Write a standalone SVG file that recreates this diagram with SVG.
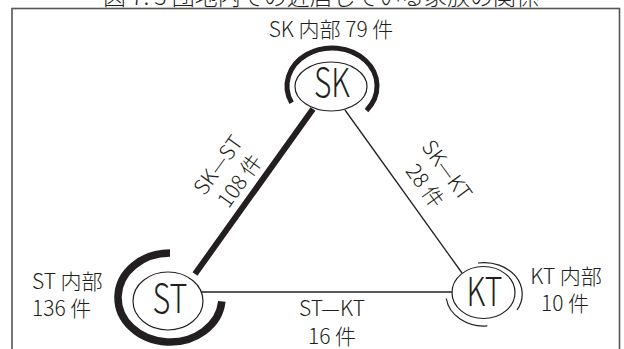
<svg xmlns="http://www.w3.org/2000/svg" width="624" height="349" viewBox="0 0 624 349">
<style>
text{font-family:"Noto Sans CJK JP","Noto Sans",sans-serif;fill:#231f20;font-weight:300}
.lbl{font-size:21px}
.node{font-size:40px}
.ell{fill:#fff;stroke:#231f20;stroke-width:1.2}
.arc{fill:none;stroke:#231f20}
.edge{stroke:#231f20;fill:none}
</style>
<rect x="0" y="0" width="624" height="349" fill="#fff"/>
<text x="321" y="4.5" text-anchor="middle" style="font-size:23px">図 7. 3 団地内での近居している家族の関係</text>
<rect x="12" y="8.5" width="607.5" height="360" fill="none" stroke="#555" stroke-width="1.6"/>
<g id="connectors">
<line class="edge" x1="313" y1="109" x2="195" y2="274" stroke-width="6"/>
<line class="edge" x1="345" y1="110" x2="462" y2="273" stroke-width="1.3"/>
<line class="edge" x1="201" y1="292" x2="452" y2="292" stroke-width="1.3"/>
<g transform="translate(229,173) rotate(-54)">
<text class="lbl" x="0" y="-6" text-anchor="middle">SK—ST</text>
<text class="lbl" x="0" y="21" text-anchor="middle">108 件</text>
</g>
<g transform="translate(436,178) rotate(54)">
<text class="lbl" x="0" y="-6" text-anchor="middle">SK—KT</text>
<text class="lbl" x="0" y="21" text-anchor="middle">28 件</text>
</g>
<text class="lbl" x="332" y="316" text-anchor="middle">ST—KT</text>
<text class="lbl" x="332" y="344" text-anchor="middle">16 件</text>
</g>
<g id="node-SK">
<path class="arc" stroke-width="5" d="M291.6,102.7 A45,38 0 1 1 366.5,110.4"/>
<ellipse class="ell" cx="331" cy="86.5" rx="36" ry="24.5"/>
<text class="node" x="332" y="97" text-anchor="middle" textLength="36" lengthAdjust="spacingAndGlyphs">SK</text>
<text class="lbl" x="331" y="37" text-anchor="middle">SK 内部 79 件</text>
</g>
<g id="node-ST">
<path class="arc" stroke-width="7.5" d="M170,253 A52,44.5 0 1 0 221.8,301.4"/>
<ellipse class="ell" cx="168" cy="301" rx="35" ry="29"/>
<text class="node" x="170" y="313" text-anchor="middle" textLength="35" lengthAdjust="spacingAndGlyphs">ST</text>
<text class="lbl" x="32" y="289">ST 内部</text>
<text class="lbl" x="32" y="316">136 件</text>
</g>
<g id="node-KT">
<path class="arc" stroke-width="1.2" d="M478,263 A38,31.5 0 0 1 517,310"/>
<path class="arc" stroke-width="1.2" d="M446.3,298.5 A38,31.5 0 0 0 487.3,325.9"/>
<ellipse class="ell" cx="483.5" cy="292.5" rx="31.5" ry="26"/>
<text class="node" x="484.5" y="306" text-anchor="middle" textLength="36" lengthAdjust="spacingAndGlyphs">KT</text>
<text class="lbl" x="566" y="284" text-anchor="middle">KT 内部</text>
<text class="lbl" x="565" y="311" text-anchor="middle">10 件</text>
</g>
</svg>
